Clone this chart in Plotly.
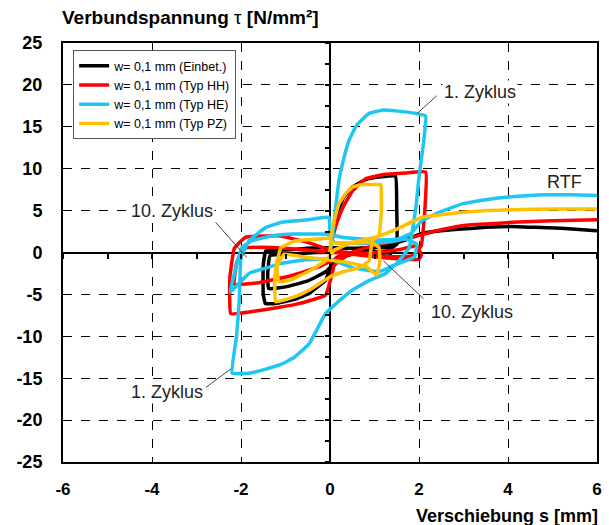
import plotly.graph_objects as go

# ---- data ----
names = ["w= 0,1 mm (Einbet.)", "w= 0,1 mm (Typ HH)", "w= 0,1 mm (Typ HE)", "w= 0,1 mm (Typ PZ)"]
colors = ["#000000", "#ff0000", "#1ec6f2", "#ffc000"]

s_ein = [0, 0.05, 0.15, 0.3, 0.5, 0.8, 1.1, 1.47, 1.5, 1.5, 1.4, 1.0, 0.5, 0.0, -0.5, -1.0, -1.44, -1.5, -1.5,
         -1.45, -1.22, -0.8, -0.47, -0.1, 0.0, 0.15, 0.6, 1.1, 1.33, 1.36, 1.35, 1.0, 0.4, -0.3, -0.9, -1.35,
         -1.4, -1.38, -1.0, -0.5, -0.1, 0.2, 0.7, 1.3, 1.7, 2.07, 2.5, 2.97, 3.5, 4.1, 4.6, 5.2, 6.0]
t_ein = [0, 2.0, 4.5, 6.5, 7.8, 8.7, 9.0, 9.1, 5.0, 1.0, 0.6, 0.6, 0.5, 0.6, 0.5, 0.3, 0.2, -1.5, -5.0,
         -6.1, -6.1, -5.6, -4.9, -3.3, -2.0, -0.6, 0.0, 0.1, 0.2, 1.0, -0.4, -0.3, 0.0, 0.0, -0.2, -0.4,
         -2.5, -4.3, -4.1, -3.4, -2.3, -0.8, 0.2, 0.9, 1.5, 2.3, 2.6, 2.8, 3.0, 3.1, 3.0, 2.9, 2.6]

s_hh = [0, 0.05, 0.15, 0.3, 0.5, 0.8, 1.2, 1.7, 2.15, 2.13, 2.05, 1.85, 1.5, 1.0, 0.5, 0.0, -0.5, -1.15, -1.9,
        -2.15, -2.25, -2.23, -1.82, -1.2, -0.7, -0.1, 0.0, 0.1, 0.4, 1.0, 1.6, 1.95, 2.05, 2.0, 1.7, 1.0, 0.3,
        -0.5, -1.3, -1.95, -2.1, -2.15, -1.6, -0.9, -0.2, 0.3, 0.9, 1.4, 1.84, 2.4, 2.97, 3.5, 4.1, 5.0, 6.0]
t_hh = [0, 1.5, 3.5, 5.5, 7.3, 8.8, 9.3, 9.5, 9.6, 5.0, 0.8, -0.4, -0.5, -0.4, -0.1, 0.3, 1.2, 2.0, 1.8,
        0.5, -3.0, -7.3, -7.1, -6.6, -6.1, -5.1, -3.5, -1.5, -0.3, 0.0, 0.4, 0.8, -0.3, -0.8, -0.8, -0.5, -0.1,
        0.3, 0.6, 0.5, -1.3, -3.8, -3.6, -2.8, -1.6, -0.3, 0.7, 1.3, 1.8, 2.6, 3.2, 3.4, 3.6, 3.8, 3.9]

s_he = [0, 0.05, 0.12, 0.2, 0.3, 0.43, 0.6, 0.88, 1.2, 1.48, 1.93, 2.15, 2.1, 2.0, 1.93, 1.78, 1.55, 1.25,
        0.9, 0.5, 0.2, -0.1, -0.47, -0.8, -1.08, -1.5, -1.82, -2.2, -2.1, -2.04, -2.0, -1.82, -1.44, -1.08,
        -0.5, -0.02, 0.0, 0.1, 0.5, 1.0, 1.4, 1.7, 1.95, 1.9, 1.7, 1.4, 1.1, 0.5, 0.0, -0.6, -1.08, -1.82,
        -2.24, -2.1, -1.98, -1.75, -1.3, -0.8, -0.1, 0.3, 1.0, 1.5, 1.8, 2.07, 2.5, 2.97, 3.5, 3.95, 4.5,
        4.85, 5.4, 6.0]
t_he = [0, 1.5, 5.0, 8.6, 11.0, 13.4, 15.2, 16.6, 17.0, 16.9, 16.6, 16.3, 13.0, 9.0, 5.4, 0.6, -1.0, -2.5,
        -3.3, -4.5, -5.8, -7.3, -10.9, -12.5, -13.3, -14.0, -14.4, -14.4, -10.0, -5.7, -0.6, 1.4, 3.0, 3.6,
        3.9, 4.2, 2.0, 1.2, 1.1, 1.1, 1.3, 1.6, 1.0, -0.5, -1.0, -1.6, -2.3, -1.8, -0.8, -0.9, -1.3, -2.5,
        -4.7, -1.5, 0.6, 1.4, 2.0, 2.2, 2.2, 1.8, 1.5, 1.6, 2.2, 3.8, 4.9, 5.8, 6.3, 6.6, 6.8,
        6.9, 6.9, 6.8]

s_pz = [0, 0.02, 0.08, 0.2, 0.35, 0.5, 0.72, 0.95, 1.14, 1.15, 1.1, 0.95, 0.88, 0.65, 0.3, 0.0, -0.47, -0.8,
        -1.22, -1.24, -1.2, -1.1, -0.77, -0.3, 0.0, 0.05, 0.4, 0.92, 1.1, 1.12, 1.05, 0.83, 0.5, 0.0, -0.5,
        -1.03, -1.19, -1.15, -0.9, -0.5, -0.1, 0.1, 0.5, 1.0, 1.5, 2.07, 2.5, 2.97, 3.5, 4.1, 5.0, 6.0]
t_pz = [0, 1.8, 3.5, 5.8, 7.0, 7.8, 8.1, 8.1, 8.1, 4.6, 2.0, 1.4, -1.0, -1.8, -2.3, -2.9, -4.5, -5.3,
        -5.9, -3.0, -1.3, 0.6, 1.4, 1.6, 1.7, 1.2, 1.1, 1.2, 0.6, -1.0, -2.7, -1.75, -1.3, -0.9, -0.6,
        -0.2, -1.7, -3.5, -3.3, -2.3, -1.0, 0.3, 1.2, 1.8, 2.8, 4.2, 4.5, 4.8, 5.0, 5.1, 5.2, 5.2]

series_s = [s_ein, s_hh, s_he, s_pz]
series_t = [t_ein, t_hh, t_he, t_pz]

x_ticks = [-6, -4, -2, 0, 2, 4, 6]
y_ticks = [25, 20, 15, 10, 5, 0, -5, -10, -15, -20, -25]

# annotation texts: (text, text_x, text_y, line_from_x, line_from_y, line_to_x, line_to_y)
notes = [
    ("1. Zyklus", 3.38, 19.1, 2.40, 18.7, 1.96, 16.6),
    ("10. Zyklus", -3.54, 5.0, -2.57, 3.6, -1.87, -0.6),
    ("10. Zyklus", 3.19, -7.1, 2.10, -5.5, 1.20, -1.0),
    ("1. Zyklus", -3.67, -16.7, -2.79, -16.1, -2.23, -13.9),
    ("RTF", 5.26, 8.4, None, None, None, None),
]

FONT = "Liberation Sans, Arial, sans-serif"

fig = go.Figure()
for name, col, xs, ys in zip(names, colors, series_s, series_t):
    fig.add_trace(go.Scatter(x=xs, y=ys, mode="lines", name=name,
                             line=dict(color=col, width=3.5, shape="spline", smoothing=0.3)))

# invisible trace carrying the axes through the origin
fig.add_trace(go.Scatter(x=[None], y=[None], xaxis="x2", yaxis="y2", showlegend=False,
                         hoverinfo="skip", mode="lines"))

for text, tx, ty, fx, fy, ex, ey in notes:
    if fx is not None:
        fig.add_shape(type="line", x0=fx, y0=fy, x1=ex, y1=ey, xref="x", yref="y",
                      line=dict(color="#444444", width=1))
    fig.add_annotation(x=tx, y=ty, text=text, showarrow=False, xref="x", yref="y",
                       bgcolor="white" if text != "RTF" else "rgba(0,0,0,0)", borderpad=1,
                       font=dict(family=FONT, size=18, color="#222222"))

fig.add_annotation(text="<b>Verbundspannung</b> τ <b>[N/mm²]</b>", xref="paper", yref="paper",
                   x=-0.006, y=1.06, xanchor="left", yanchor="middle", showarrow=False,
                   font=dict(family=FONT, size=19, color="black"))
fig.add_annotation(text="<b>Verschiebung s [mm]</b>", xref="paper", yref="paper",
                   x=1.005, y=-0.128, xanchor="right", yanchor="middle", showarrow=False,
                   font=dict(family=FONT, size=18, color="black"))

fig.update_layout(
    width=609, height=525,
    margin=dict(l=63, r=12, t=43, b=63, autoexpand=False),
    paper_bgcolor="white", plot_bgcolor="white",
    showlegend=True,
    legend=dict(x=0.019, y=0.983, xanchor="left", yanchor="top", bgcolor="white",
                bordercolor="#555555", borderwidth=1, font=dict(family=FONT, size=12.5, color="black"),
                tracegroupgap=0, itemwidth=30),
    xaxis=dict(range=[-6, 6], tickvals=x_ticks, ticktext=[str(v) for v in x_ticks],
               showgrid=True, gridcolor="black", griddash="dash", gridwidth=1,
               zeroline=True, zerolinecolor="black", zerolinewidth=2,
               showline=True, linecolor="black", linewidth=2, mirror=True, ticks="",
               ticklabelstandoff=11, automargin=False,
               tickfont=dict(family=FONT, size=17, color="black", weight="bold"),
               fixedrange=True),
    yaxis=dict(range=[-25, 25], tickvals=y_ticks, ticktext=[str(v) for v in y_ticks],
               showgrid=True, gridcolor="black", griddash="dash", gridwidth=1,
               zeroline=True, zerolinecolor="black", zerolinewidth=2,
               showline=True, linecolor="black", linewidth=2, mirror=True, ticks="",
               ticklabelstandoff=15, automargin=False,
               tickfont=dict(family=FONT, size=18, color="black", weight="bold"),
               fixedrange=True),
    xaxis2=dict(range=[-6, 6], overlaying="x", anchor="free", position=0.5, side="bottom",
                dtick=1, tick0=0, ticks="outside", ticklen=5, tickwidth=1.5, tickcolor="black",
                showticklabels=False, showgrid=False, zeroline=False, showline=False, automargin=False),
    yaxis2=dict(range=[-25, 25], overlaying="y", anchor="free", position=0.5, side="left",
                dtick=2.5, tick0=0, ticks="outside", ticklen=5, tickwidth=1.5, tickcolor="black",
                showticklabels=False, showgrid=False, zeroline=False, showline=False, automargin=False),
)

fig.write_html("out.html", config={"displayModeBar": False},
               post_script="document.body.style.margin='0px';")
